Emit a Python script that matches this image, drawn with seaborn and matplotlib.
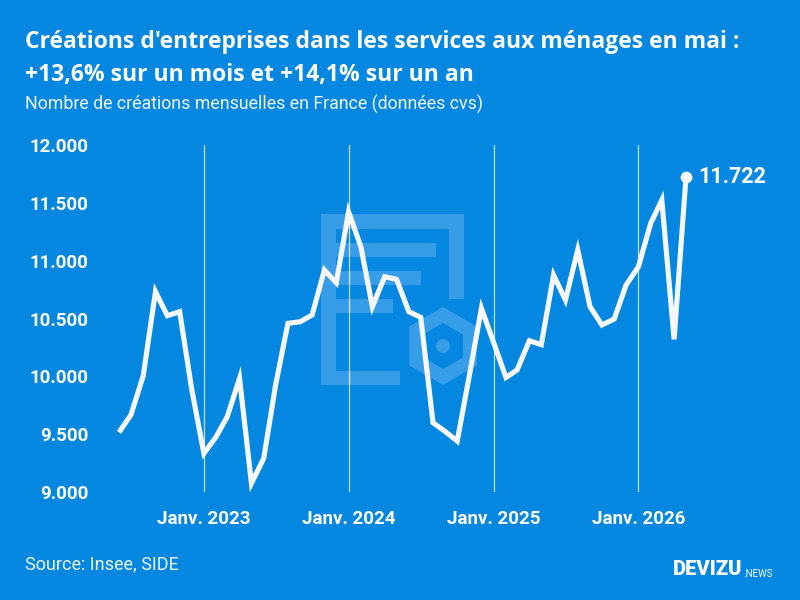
import numpy as np
import pandas as pd
import matplotlib
matplotlib.use("Agg")
import matplotlib.pyplot as plt
import matplotlib.patches as mpatches
from matplotlib.transforms import IdentityTransform
from matplotlib.ticker import FuncFormatter
import seaborn as sns

# données mensuelles (cvs), juin 2022 -> mai 2026
months = pd.date_range("2022-06-01", periods=48, freq="MS")
values_2022 = [9516, 9666, 10003, 10732, 10524, 10559, 9896]
values_2023 = [9334, 9478, 9651, 9983, 9075, 9291, 9925, 10458, 10472, 10530, 10919, 10809]
values_2024 = [11423, 11121, 10602, 10861, 10839, 10559, 10510, 9599, 9522, 9441, 10014, 10588]
values_2025 = [10291, 9991, 10055, 10308, 10274, 10876, 10660, 11092, 10602, 10444, 10496, 10790]
values_2026 = [10948, 11323, 11524, 10320, 11722]
creations = values_2022 + values_2023 + values_2024 + values_2025 + values_2026

year_ticks = pd.to_datetime(["2023-01-01", "2024-01-01", "2025-01-01", "2026-01-01"])
year_labels = ["Janv. 2023", "Janv. 2024", "Janv. 2025", "Janv. 2026"]
y_ticks = [9000, 9500, 10000, 10500, 11000, 11500, 12000]

title_1 = "Créations d'entreprises dans les services aux ménages en mai :"
title_2 = "+13,6% sur un mois et +14,1% sur un an"
subtitle = "Nombre de créations mensuelles en France (données cvs)"
source = "Source: Insee, SIDE"

BG = "#0387E0"
WM = "#389DE9"

sns.set_theme(style="white")
plt.rcParams["font.family"] = ["Roboto", "DejaVu Sans"]

df = pd.DataFrame({"mois": months, "creations": creations})

W, H = 800, 600
fig = plt.figure(figsize=(8, 6), dpi=100, facecolor=BG)
ax = fig.add_axes([119 / W, 1 - 492 / H, (686 - 119) / W, (492 - 145) / H])
ax.set_facecolor("none")


def px_rect(x0, y0, x1, y1):
    # rectangle en pixels (origine en haut à gauche)
    r = mpatches.Rectangle((x0, H - y1), x1 - x0, y1 - y0, transform=IdentityTransform(),
                           facecolor=WM, edgecolor="none", zorder=-1)
    fig.add_artist(r)


# filigrane (logo)
px_rect(321, 214, 336, 385)
px_rect(321, 214, 464, 229)
px_rect(449, 214, 464, 299)
px_rect(321, 371, 400, 385)
px_rect(336, 243, 436, 257)
px_rect(336, 271, 421, 285)
px_rect(336, 299, 393, 313)
for rad, col in [(39, WM), (23, BG)]:
    hexa = mpatches.RegularPolygon((443, H - 346), 6, radius=rad, transform=IdentityTransform(),
                                   facecolor=col, edgecolor="none", zorder=-1)
    fig.add_artist(hexa)
fig.add_artist(mpatches.Circle((443, H - 346), 7, transform=IdentityTransform(),
                               facecolor=WM, edgecolor="none", zorder=-1))

sns.lineplot(data=df, x="mois", y="creations", ax=ax, color="#F7F8FF", linewidth=3.7)
line = ax.lines[0]
line.set_solid_joinstyle("miter")
line.set_solid_capstyle("butt")
line.set_clip_on(False)

ax.plot(months[-1], creations[-1], "o", color="#F7F8FF", markersize=7.5, clip_on=False)
ax.annotate(f"{creations[-1]:,}".replace(",", "."), (months[-1], creations[-1]),
            xytext=(9, 0), textcoords="offset points", va="center", ha="left",
            color="white", fontsize=15.5, fontweight="bold", annotation_clip=False)

ax.set_xlim(months[0], months[-1])
ax.set_ylim(9000, 12000)
ax.set_xticks(year_ticks)
ax.set_xticklabels(year_labels)
ax.set_yticks(y_ticks)
ax.yaxis.set_major_formatter(FuncFormatter(lambda v, p: f"{int(v):,}".replace(",", ".")))
ax.tick_params(axis="both", length=0, colors="white", labelsize=13.5)
ax.tick_params(axis="y", pad=22)
ax.tick_params(axis="x", pad=13, labelsize=13.5)
for lab in ax.get_xticklabels() + ax.get_yticklabels():
    lab.set_fontweight("bold")
ax.set_xlabel("")
ax.set_ylabel("")
ax.grid(axis="x", color="white", linewidth=0.9, alpha=0.75)
ax.grid(axis="y", visible=False)
for s in ax.spines.values():
    s.set_visible(False)

title_font = ["Open Sans", "Roboto", "DejaVu Sans"]
fig.text(25 / W, 1 - 48.5 / H, title_1, color="white", fontsize=16.5, fontweight="bold",
         family=title_font, ha="left", va="baseline")
fig.text(25 / W, 1 - 81.5 / H, title_2, color="white", fontsize=16.5, fontweight="bold",
         family=title_font, ha="left", va="baseline")
fig.text(25 / W, 1 - 109.5 / H, subtitle, color="#EEF6FD", fontsize=12.8,
         ha="left", va="baseline")
fig.text(25 / W, 1 - 569.5 / H, source, color="#EEF6FD", fontsize=13,
         ha="left", va="baseline")
logo = fig.text(673 / W, 1 - 575 / H, "DEVIZU", color="white", fontsize=14.5, fontweight="black",
                ha="left", va="baseline")
ax.annotate(".NEWS", xy=(1, 0), xycoords=logo, xytext=(0.5, 0), textcoords="offset points",
            color="white", fontsize=7, ha="left", va="bottom", annotation_clip=False)

fig.savefig("out.png", dpi=100, facecolor=BG)
